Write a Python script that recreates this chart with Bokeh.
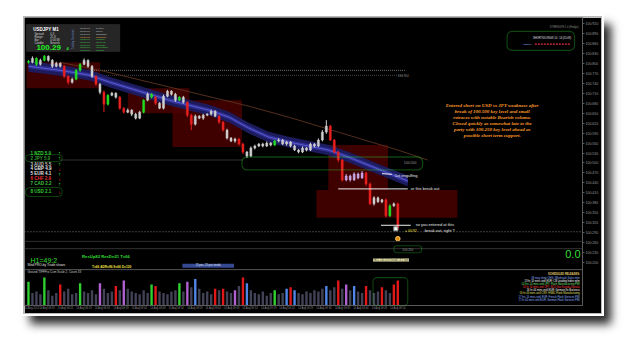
from bokeh.plotting import figure
from bokeh.models import (ColumnDataSource, Range1d, FixedTicker,
                          NumeralTickFormatter, Label, BoxAnnotation, Span)
from bokeh.embed import file_html
from bokeh.resources import INLINE
import math

# ---------------- data ----------------
close = [100.803, 100.815, 100.797, 100.809, 100.821, 100.809, 100.791, 100.800, 100.791, 100.761,
         100.743, 100.752, 100.779, 100.797, 100.809, 100.791, 100.761, 100.737, 100.713, 100.677,
         100.704, 100.710, 100.698, 100.665, 100.653, 100.659, 100.647, 100.635, 100.653, 100.689,
         100.707, 100.698, 100.680, 100.665, 100.701, 100.716, 100.707, 100.689, 100.698, 100.683,
         100.644, 100.617, 100.641, 100.635, 100.644, 100.647, 100.656, 100.641, 100.623, 100.599,
         100.575, 100.566, 100.572, 100.557, 100.533, 100.521, 100.545, 100.551, 100.557, 100.551,
         100.560, 100.554, 100.566, 100.569, 100.557, 100.563, 100.551, 100.539, 100.533, 100.545,
         100.539, 100.557, 100.551, 100.569, 100.593, 100.611, 100.569, 100.533, 100.509, 100.449,
         100.461, 100.449, 100.467, 100.455, 100.470, 100.437, 100.377, 100.395, 100.383, 100.389,
         100.341, 100.371, 100.377, 100.305]
first_open = 100.806
hi_ext = [4, 6, 3, 5, 4, 3, 4, 5, 3, 4, 3, 5, 4, 4, 6, 3, 4, 3, 4, 5,
          3, 4, 3, 4, 3, 5, 3, 4, 4, 3, 5, 3, 4, 3, 5, 4, 3, 4, 3, 4,
          3, 4, 5, 3, 4, 3, 5, 3, 4, 3, 4, 3, 4, 3, 4, 3, 5, 4, 3, 4,
          5, 3, 4, 6, 3, 4, 3, 4, 3, 5, 3, 4, 3, 5, 6, 18, 4, 3, 4, 3,
          6, 4, 5, 4, 6, 3, 4, 5, 4, 3, 4, 5, 4, 3]
lo_ext = [4, 3, 5, 4, 3, 4, 5, 3, 4, 5, 6, 4, 3, 4, 3, 4, 5, 4, 6, 24,
          4, 3, 4, 5, 4, 3, 6, 4, 3, 4, 3, 4, 5, 3, 4, 3, 4, 5, 3, 4,
          6, 18, 4, 3, 5, 3, 4, 3, 5, 4, 4, 3, 5, 4, 6, 6, 3, 4, 3, 4,
          3, 4, 3, 4, 3, 5, 4, 3, 4, 3, 4, 3, 4, 3, 4, 5, 3, 4, 6, 5,
          4, 5, 3, 4, 3, 6, 4, 5, 3, 4, 5, 4, 3, 6]
candle_kind = list("gwgwgwwwwr" "rwggwwwrwr" "gwwrrwwwwg" "wgrwwwwwgw" "rrwwwwwwrr"
                   "wwwrrwwwww" "wwgwwwwwww" "wwwwwwrrrr" "ppppprrwww" "rgwr")

volume = [85, 45, 50, 40, 100, 55, 35, 45, 75, 50, 60, 40, 45, 80, 50, 45, 55, 40, 80, 60,
          45, 50, 70, 55, 90, 60, 50, 45, 40, 55, 45, 75, 70, 50, 45, 40, 50, 55, 80, 50,
          85, 65, 95, 60, 45, 50, 40, 60, 55, 60, 50, 45, 55, 70, 100, 80, 55, 45, 40, 50,
          35, 45, 55, 40, 45, 60, 65, 55, 45, 40, 50, 45, 55, 50, 60, 70, 55, 65, 90, 60,
          75, 55, 70, 50, 45, 70, 55, 45, 50, 65, 55, 45, 75, 90]
volume_kind = list("gkkkgkkkrk" "kkkgkkkkvk" "kkrkvkkkkk" "kgrkkkkkgk" "vkbkkkkrkr"
                   "kkvkrbkkkk" "kkgkkbrbkk" "kkkkkbkkrk" "vkbkkrkkkr" "kkrr")

# fast MA channel (bar, price)
ma_bar = [0, 8, 15.5, 20.5, 28, 35.5, 40.5, 45.5, 50.5, 55.5, 60.5, 65.5, 70.5, 75.5, 80.5, 85.5, 90.5, 95.5]
ma_mid = [100.791, 100.779, 100.764, 100.743, 100.716, 100.689, 100.674, 100.659, 100.638,
          100.605, 100.578, 100.563, 100.551, 100.539, 100.518, 100.494, 100.470, 100.446]
# slow MA
sma_bar = [8, 18, 30.5, 43, 55.5, 65.5, 78, 93, 100.5]
sma_val = [100.803, 100.779, 100.743, 100.707, 100.671, 100.638, 100.593, 100.539, 100.509]

# session boxes
box_l = [-0.5, 25, 36.25, 75.5, 72.5]
box_r = [18, 40.5, 53.75, 90.5, 108]
box_t = [100.803, 100.725, 100.689, 100.554, 100.419]
box_b = [100.725, 100.650, 100.548, 100.419, 100.335]

price_ticks = [100.200, 100.230, 100.260, 100.290, 100.320, 100.350, 100.380, 100.410, 100.440,
               100.470, 100.500, 100.530, 100.560, 100.590, 100.620, 100.650, 100.680, 100.710,
               100.740, 100.770, 100.800, 100.830, 100.860, 100.890, 100.920]
time_ticks = [0, 4.7, 9.3, 14, 18.6, 23.3, 27.9, 32.6, 37.2, 41.9, 46.5, 51.2, 55.8, 60.5,
              65.1, 69.8, 74.4, 79.1, 83.7, 88.4, 93]
time_labels = ["14 Aug 2013", "14 Aug 08:19", "14 Aug 08:24", "14 Aug 08:29", "14 Aug 08:34",
               "14 Aug 08:39", "14 Aug 08:44", "14 Aug 08:49", "14 Aug 08:54", "14 Aug 08:59",
               "14 Aug 09:04", "14 Aug 09:09", "14 Aug 09:14", "14 Aug 09:19", "14 Aug 09:24",
               "14 Aug 09:29", "14 Aug 09:34", "14 Aug 09:39", "14 Aug 09:44", "14 Aug 09:49",
               "14 Aug 09:54"]

strength_labels = ["1 NZD 5.9", "2 JPY 5.0", "3 AUD 5.5", "4 GBP 4.9",
                   "5 EUR 4.1", "6 CHF 2.9", "7 CAD 2.2", "8 USD 2.1"]
strength_up = [True, True, True, False, True, False, True, False]

note_lines = ["Entered short on USD vs JPY weakness after",
              "break of 100.500 key level and small",
              "retraces with notable Bearish volume.",
              "Closed quickly as somewhat late to the",
              "party with 100.250 key level ahead as",
              "possible short term support."]

news_lines = ["SCHEDULED RELEASES:",
              "08 may show CHG: Wholesale Sales m/m",
              "13 hr 14 mins until EUR: CB Leading Index m/m",
              "14 hrs 14 mins until JPY: Flash Manufacturing PMI",
              "16 hr 14 mins until JPY: BOJ Gov Kuroda Speaks",
              "16 hr 44 mins until EUR: German Ifo Business",
              "16 hr 44 mins until CNY: HSBC Flash Manufacturing",
              "17 hrs 14 mins until EUR: French Flash Services PMI",
              "17 hr 44 mins until EUR: German Flash Services PMI"]
news_colors = ["#e8d070", "#8fb4ff", "#ffffff", "#7fe07f", "#ff4040", "#ffffff", "#e0e070", "#8fb4ff", "#8fb4ff"]

# ---------------- derived ----------------
n = len(close)
bars = list(range(n))
opens = [first_open] + close[:-1]
highs = [max(o, c) + h / 1000 for o, c, h in zip(opens, close, hi_ext)]
lows = [min(o, c) - l / 1000 for o, c, l in zip(opens, close, lo_ext)]
ccol = {"w": "#cfcfcf", "g": "#22dd22", "r": "#e82020", "p": "#c9a6e6"}
vcol = {"k": "#424256", "g": "#2fd02f", "r": "#e01818", "v": "#b060d0", "b": "#4f86e8"}

cs = ColumnDataSource(dict(x=bars, top=[max(o, c) for o, c in zip(opens, close)],
                           bottom=[min(o, c) for o, c in zip(opens, close)],
                           hi=highs, lo=lows, color=[ccol[k] for k in candle_kind]))
vs = ColumnDataSource(dict(x=bars, v=volume, color=[vcol[k] for k in volume_kind]))

# ---------------- figure ----------------
p = figure(width=577, height=296, x_range=Range1d(-1, 139.5), y_range=Range1d(100.071, 100.938),
           output_backend="svg", toolbar_location=None, y_axis_location="right",
           background_fill_color="black", border_fill_color="black",
           min_border_left=0, min_border_top=0, min_border_right=15, min_border_bottom=7)
p.styles = {"position": "absolute", "left": "24px", "top": "17px",
            "box-shadow": "0 0 0 1px #b8b8b8, 0 0 0 3px #ffffff, 8px 9px 9px 2px rgba(0,0,0,0.85)"}
p.outline_line_color = None
p.grid.visible = False
p.extra_y_ranges = {"vol": Range1d(0, 1032)}

# axes
p.yaxis.ticker = FixedTicker(ticks=price_ticks)
p.yaxis.formatter = NumeralTickFormatter(format="0.000")
p.yaxis.major_label_text_font_size = "3.5px"
p.yaxis.major_label_text_color = "#9a9a9a"
p.yaxis.major_label_text_font = "Liberation Sans"
p.yaxis.axis_line_color = "#5a5a5a"
p.yaxis.major_tick_line_color = "#5a5a5a"
p.yaxis.major_tick_out = 2
p.yaxis.major_tick_in = 0
p.yaxis.minor_tick_line_color = None
p.yaxis.major_label_standoff = 1

p.xaxis.ticker = FixedTicker(ticks=time_ticks)
p.xaxis.major_label_overrides = {t: s for t, s in zip(time_ticks, time_labels)}
p.xaxis.major_label_text_font_size = "2.6px"
p.xaxis.major_label_text_color = "#8a8a8a"
p.xaxis.major_label_text_font = "Liberation Sans"
p.xaxis.axis_line_color = "#5a5a5a"
p.xaxis.major_tick_line_color = "#5a5a5a"
p.xaxis.major_tick_out = 1
p.xaxis.major_tick_in = 0
p.xaxis.minor_tick_line_color = None
p.xaxis.major_label_standoff = 1

# session boxes
p.quad(left=box_l, right=box_r, top=box_t, bottom=box_b, fill_color="#4a0000", fill_alpha=0.85, line_color=None)

# horizontal levels
p.segment(x0=[15, 17], y0=[100.779, 100.764], x1=[95, 95], y1=[100.779, 100.764],
          line_color=["#909090", "#555555"], line_width=0.8, line_dash="1 1")
p.add_layout(Span(location=100.293, dimension="width", line_color="#9a9a9a", line_width=0.8, line_dash="1 2"))
p.add_layout(Span(location=100.264, dimension="width", line_color="#3a3a3a", line_width=0.8))
p.add_layout(Span(location=100.242, dimension="width", line_color="#404040", line_width=0.8))
p.add_layout(Span(location=100.179, dimension="width", line_color="#6a6a6a", line_width=0.8))
p.segment(x0=[8], y0=[100.509], x1=[54], y1=[100.509], line_color="#3c3c3c", line_width=0.8)

# MA channel
upper = [m + 0.016 for m in ma_mid]
lower = [m - 0.016 for m in ma_mid]
p.varea(x=ma_bar, y1=upper, y2=lower, fill_color="#1c1c62", fill_alpha=0.95)
p.varea(x=ma_bar, y1=[m + 0.006 for m in ma_mid], y2=[m - 0.006 for m in ma_mid],
        fill_color="#30309a", fill_alpha=0.95)
p.line(x=ma_bar, y=ma_mid, line_color="#6868d4", line_width=0.8)
p.line(x=sma_bar, y=sma_val, line_color="#5e3420", line_width=0.9)

# candles
p.segment(x0="x", y0="lo", x1="x", y1="hi", source=cs, line_color="color", line_width=1)
p.vbar(x="x", top="top", bottom="bottom", width=0.5, source=cs, fill_color="color", line_color="color", line_width=0.5)

# volume
p.vbar(x="x", top="v", bottom=0, width=0.6, source=vs, fill_color="color", line_color=None, y_range_name="vol")


def lab(x, y, text, color="#ffffff", size="4px", style="normal", align="left",
        baseline="middle", font="Liberation Sans", angle=0.0, bg=None):
    lb = Label(x=x, y=y, text=text, text_color=color, text_font_size=size, text_font_style=style,
               text_align=align, text_baseline=baseline, text_font=font, angle=angle)
    if bg is not None:
        lb.background_fill_color = bg
    p.add_layout(lb)


# key level boxes
p.add_layout(BoxAnnotation(left=53.75, right=99.25, top=100.518, bottom=100.479, fill_alpha=0,
                           line_color="#33dd33", line_width=1.3, border_radius=5))
lab(94.5, 100.500, "100.500", "#9a9a9a", "3.5px")
p.add_layout(BoxAnnotation(left=92, right=99, top=100.251, bottom=100.230, fill_alpha=0,
                           line_color="#33dd33", line_width=1.1, border_radius=3))
lab(95.5, 100.2405, "100.250", "#9a9a9a", "3px", align="center")
lab(93, 100.764, "100.764", "#8a8a8a", "3px")

# annotations
p.segment(x0=[78, 88.75, 89], y0=[100.422, 100.3125, 100.468], x1=[95.5, 96.25, 91.5],
          y1=[100.422, 100.3125, 100.466], line_color="#f0f0f0", line_width=1)
lab(92.25, 100.461, "1st engulfing", "#e8e8e8", "4px")
lab(96.25, 100.422, "or this break out", "#e8e8e8", "4px")
lab(97.5, 100.314, "so you entered at this", "#e8e8e8", "4px")
lab(99.75, 100.296, "break out, right ?", "#e8e8e8", "4px")
lab(94.8, 100.296, "= 00.92", "#f0e040", "3.5px")
p.scatter(x=[92.5], y=[100.302], marker="square", size=4, fill_color="#ffffff", line_color="#999999")
p.scatter(x=[93], y=[100.272], marker="circle", size=4.5, fill_color="#e08a10", line_color="#ffd060")
lab(86.75, 100.208, "SELL 100.413 closed +9.2 pips", "#202020", "2.6px", bg="#f4f0b0")

for i, line in enumerate(note_lines):
    lab(116.75, [100.674, 100.656, 100.638, 100.620, 100.602, 100.584][i], line, "#ff9a2a", "5px",
        style="bold italic", align="center", font="Liberation Serif")

# currency strength list
sy = [100.529, 100.515, 100.496, 100.482, 100.467, 100.452, 100.437, 100.4135]
scol = ["#2fd02f", "#2f9f2f", "#c0c0c0", "#e8e8e8", "#e8e8e8", "#e03030", "#3fc03f", "#2fd02f"]
for t, y, up, c in zip(strength_labels, sy, strength_up, scol):
    lab(0.5, y, t, c, "4.5px", style="bold")
    lab(7.5, y, "\u2191" if up else "\u2193", "#2fe02f" if up else "#ff2a2a", "5px", style="bold")
p.add_layout(BoxAnnotation(left=-0.75, right=8.5, top=100.525, bottom=100.504, fill_alpha=0,
                           line_color="#33dd33", line_width=1, border_radius=4))
p.add_layout(BoxAnnotation(left=-0.75, right=8.5, top=100.426, bottom=100.399, fill_alpha=0,
                           line_color="#33dd33", line_width=1, border_radius=4))

# info panel
p.add_layout(BoxAnnotation(left=-0.5, right=23, top=100.917, bottom=100.836, fill_color="#262626",
                           fill_alpha=1, line_color="#555555", line_width=0.8))
lab(1.2, 100.902, "USDJPY  M1", "#ffffff", "4.5px", style="bold")
for j, (k, v) in enumerate([("Spread:", "0.9"), ("Range:", "25.8"), ("Bar:", "0:00:38"), ("Candle:", "Bearish")]):
    lab(1.5, 100.890 - j * 0.009, k, "#d0d0d0", "2.8px")
    lab(5.5, 100.890 - j * 0.009, v, "#d0d0d0", "2.8px")
lab(2, 100.848, "100.29", "#22ee22", "8px", style="bold")
lab(9.6, 100.846, "4", "#22ee22", "4px", style="bold")
lab(11.2, 100.872, "Trading Sessions", "#6a80c0", "2.6px", align="center", angle=math.pi / 2)
sess = [("15:30:00", "Sydney", "#c0c0c0"), ("15:30:00", "Tokyo", "#c0c0c0"),
        ("15:30:00", "Shanghai", "#c0c0c0"), ("08:30:00", "Frankfurt", "#f0a040"),
        ("08:30:00", "London", "#40d040"), ("08:30:00", "Newyork", "#40d040"),
        ("08:30:00", "Chicago", "#40d040"), ("15:30:00", "Wellington", "#40d040"),
        ("08:30:00", "Market", "#40d040")]
for j, (tm, nm, c) in enumerate(sess):
    yy = 100.904 - j * 0.0082
    lab(13, yy, tm, c, "2.5px")
    lab(17, yy, nm, c, "2.5px")

# top-right panel
lab(138.5, 100.907, "STRENGTH 1.0 (Hedge)", "#8a8a8a", "2.6px", align="right")
p.add_layout(BoxAnnotation(left=120.5, right=137.5, top=100.896, bottom=100.839, fill_alpha=0,
                           line_color="#33dd33", line_width=1.2, border_radius=5))
lab(136.8, 100.876, "SHORTS/LONGS 14 : 14  (51:49)", "#e0e0f0", "2.6px", align="right")
lab(124.5, 100.858, "USDJPY", "#8fb4ff", "2.4px")
p.segment(x0=[127.5], y0=[100.858], x1=[136.5], y1=[100.858], line_color="#e03040", line_width=1.2, line_dash="2 1")

# lower texts
lab(139.0, 100.225, "0.0", "#33dd33", "11px", align="right")
lab(0.5, 100.206, "H1=49:2", "#33dd33", "7px")
lab(13.5, 100.218, "ResUp82    ResDn21     T=66", "#33dd33", "4.2px", style="bold")
lab(16, 100.188, "T=66  ADR=86  S=66  D=120", "#f0e040", "3.2px", style="bold")
p.add_layout(BoxAnnotation(left=38.75, right=51.75, top=100.197, bottom=100.185, fill_color="#354a90",
                           fill_alpha=1, line_color=None))
lab(45.25, 100.191, "25 pos, 25 pos trends", "#e0e8ff", "2.6px", align="center")
lab(-0.25, 100.194, "Wed PRO-by Trade shows", "#e0e0e0", "3.2px")
lab(-0.25, 100.172, "Ground TIFFPro   Cum Scale 2, Count 33", "#c8c8c8", "3px")
p.add_layout(BoxAnnotation(left=86.75, right=95.5, top=100.155, bottom=100.071, fill_alpha=0,
                           line_color="#33dd33", line_width=1.1, border_radius=4))
for j, (t, c) in enumerate(zip(news_lines, news_colors)):
    lab(138.8, 100.163 - j * 0.0095, t, c, "2.6px", align="right", style="bold" if j == 0 else "normal")

open("out.html", "w").write(file_html(p, INLINE))
